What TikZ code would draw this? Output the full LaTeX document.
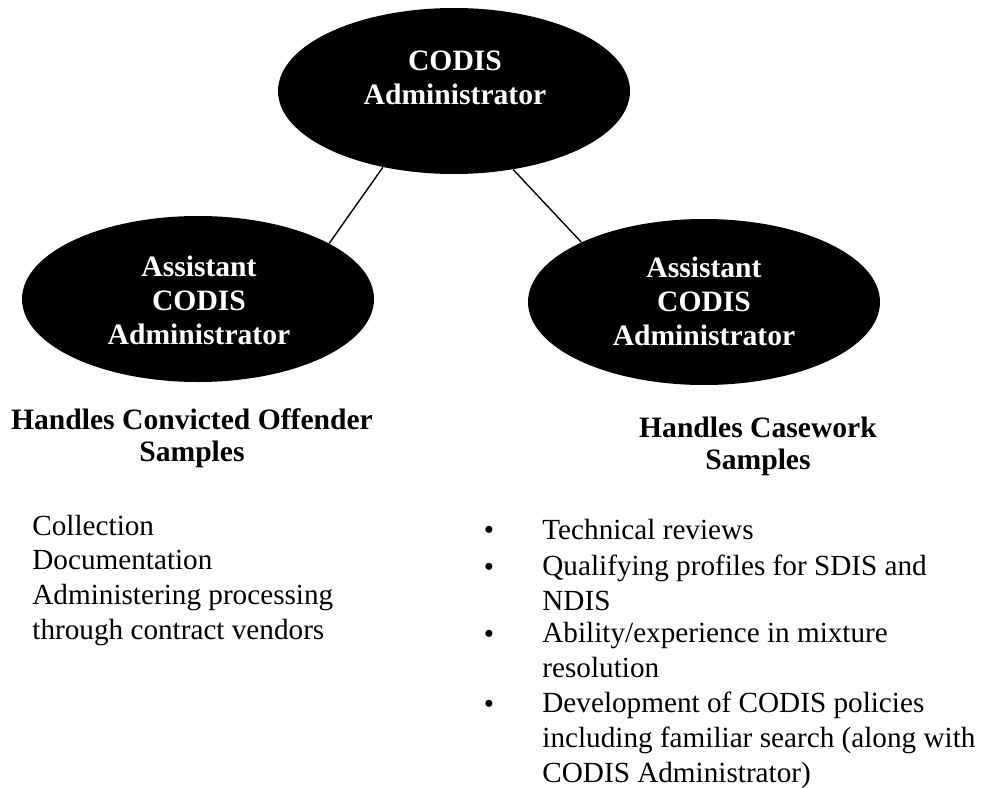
\documentclass[tikz,border=0pt]{standalone}
\usepackage{fontspec}
\setmainfont{Liberation Serif}
\usetikzlibrary{shapes.geometric}

\begin{document}
\begin{tikzpicture}[x=0.5pt,y=-0.5pt,
    every node/.style={inner sep=0pt,font=\fontsize{14.6}{17.3}\selectfont},
    blob/.style={ellipse,fill=black,minimum width=176pt,minimum height=83pt},
    blobtext/.style={anchor=base,align=center,text=white,font=\fontsize{14.8}{17}\selectfont\bfseries},
    heading/.style={anchor=base,align=center,font=\fontsize{14.8}{15.8}\selectfont\bfseries},
    item/.style={anchor=base west,align=left}]
      \useasboundingbox (0,0) rectangle (990,787);
      \draw
        (454,91) node[blob] (admin) {}
        (198,299) node[blob] (asstL) {}
        (704,302) node[blob] (asstR) {};
      % anchor=base sits on the last line
      \draw
        (455,104) node[blobtext] (adminText) {CODIS\\Administrator}
        (199,344) node[blobtext] (asstLText) {Assistant\\CODIS\\Administrator}
        (704,345) node[blobtext] (asstRText) {Assistant\\CODIS\\Administrator};
      \draw[line width=0.7pt]
        (admin.227.6) -- (asstL.23.7)
        (admin.307.1) -- (asstR.154.1);
      \draw
        (192,461) node[heading] (offender) {Handles Convicted Offender\\Samples}
        (758,469) node[heading] (casework) {Handles Casework\\Samples};
      \draw
        (32,639) node[item] (offenderList) {Collection\\Documentation\\Administering processing\\through contract vendors};
      \draw
        (489,539) node[anchor=base] (b1) {\textbullet}
        (542,539) node[item] (c1) {Technical reviews}
        (489,576) node[anchor=base] (b2) {\textbullet}
        (542,610) node[item] (c2) {Qualifying profiles for SDIS and\\NDIS}
        (489,643) node[anchor=base] (b3) {\textbullet}
        (542,677) node[item] (c3) {Ability/experience in mixture\\resolution}
        (489,713) node[anchor=base] (b4) {\textbullet}
        (542,782) node[item] (c4) {Development of CODIS policies\\including familiar search (along with\\CODIS Administrator)};
    \end{tikzpicture}
\end{document}
